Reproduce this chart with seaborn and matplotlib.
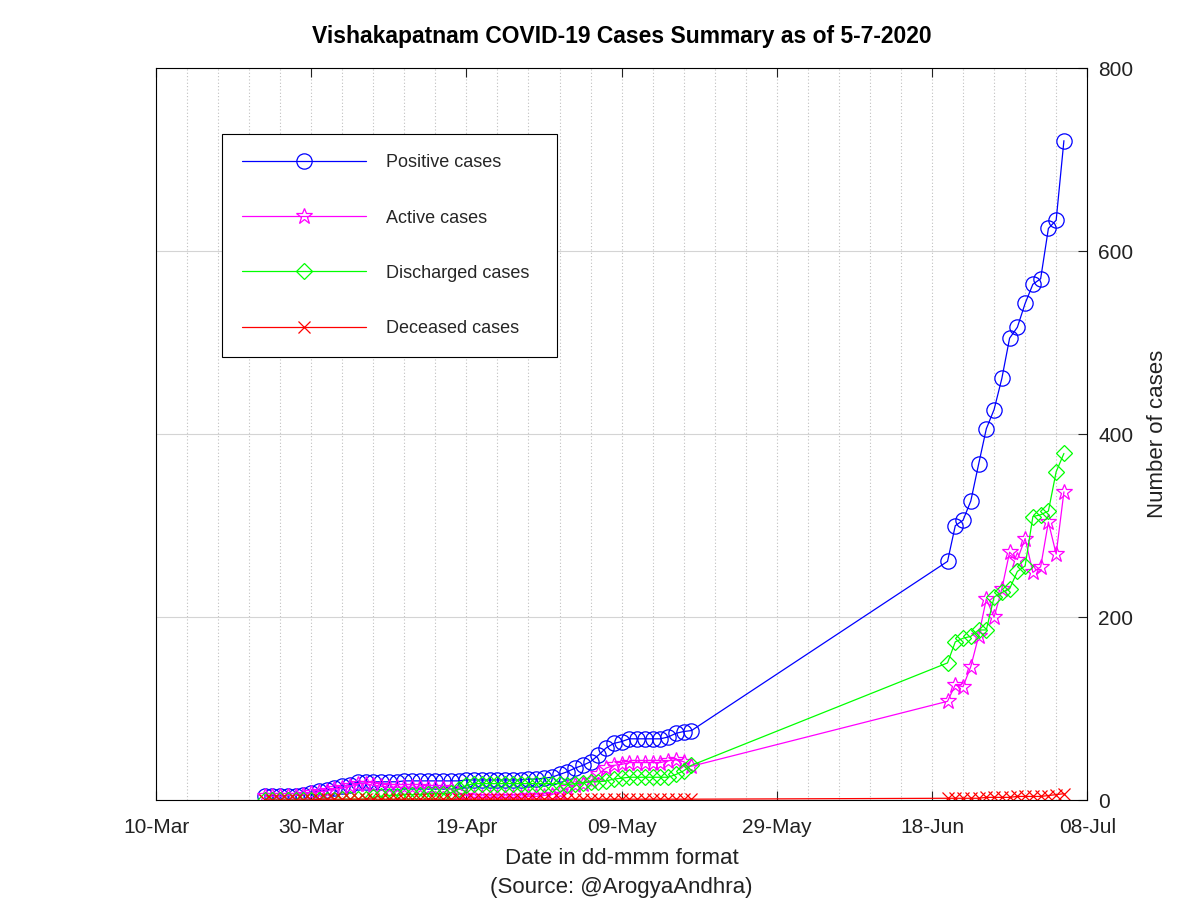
"""Vishakapatnam COVID-19 cases summary (as of 5-7-2020), redrawn with seaborn."""

from __future__ import annotations

import matplotlib

matplotlib.use("Agg")

import matplotlib.dates as mdates
import matplotlib.pyplot as plt
import pandas as pd
import seaborn as sns

# Daily bulletins: 24-Mar .. 18-May, then 20-Jun .. 05-Jul (nothing in between)
FIRST_SPAN = ("2020-03-24", "2020-05-18")
SECOND_SPAN = ("2020-06-20", "2020-07-05")

POSITIVE = [
    4, 4, 4, 5, 5, 6, 8, 10, 11, 13, 15, 17, 20, 20, 20, 20, 20, 20, 21, 21,
    21, 21, 21, 21, 21, 21, 22, 22, 22, 22, 22, 22, 22, 22, 23, 23, 24, 25, 28, 31,
    35, 38, 42, 49, 57, 62, 64, 67, 67, 67, 67, 67, 69, 73, 75, 76,
    261, 300, 306, 327, 367, 406, 427, 461, 505, 517, 543, 564, 570, 625, 634, 721,
]
ACTIVE = [
    4, 4, 4, 5, 5, 6, 8, 9, 10, 12, 13, 15, 18, 18, 16, 15, 14, 14, 14, 14,
    14, 13, 13, 13, 12, 8, 5, 3, 3, 3, 3, 3, 3, 3, 4, 4, 5, 6, 9, 13,
    16, 18, 21, 28, 35, 38, 39, 41, 41, 41, 41, 41, 43, 44, 42, 37,
    108, 126, 124, 146, 179, 220, 200, 231, 271, 263, 286, 249, 255, 304, 269, 337,
]
DISCHARGED = [
    0, 0, 0, 0, 0, 0, 0, 0, 0, 0, 1, 1, 1, 1, 3, 4, 5, 5, 6, 6,
    6, 7, 7, 7, 8, 12, 16, 18, 18, 18, 18, 18, 18, 18, 18, 18, 18, 18, 18, 17,
    18, 19, 20, 20, 21, 23, 24, 25, 25, 25, 25, 25, 25, 28, 32, 38,
    150, 173, 177, 179, 186, 186, 222, 227, 231, 250, 256, 310, 312, 316, 359, 379,
]
DECEASED = [
    0, 0, 0, 0, 0, 0, 0, 1, 1, 1, 1, 1, 1, 1, 1, 1, 1, 1, 1, 1,
    1, 1, 1, 1, 1, 1, 1, 1, 1, 1, 1, 1, 1, 1, 1, 1, 1, 1, 1, 1,
    1, 1, 1, 1, 1, 1, 1, 1, 1, 1, 1, 1, 1, 1, 1, 1,
    2, 2, 2, 2, 2, 3, 3, 3, 3, 4, 4, 4, 4, 5, 6, 7,
]

X_TICKS = ("2020-03-10", "2020-07-08")
Y_TICKS = [0, 200, 400, 600, 800]

# label -> (values, colour, marker, marker size)
SERIES_STYLE = {
    "Positive cases": (POSITIVE, "#0000ff", "o", 11),
    "Active cases": (ACTIVE, "#ff00ff", "*", 12),
    "Discharged cases": (DISCHARGED, "#00ff00", "D", 8),
    "Deceased cases": (DECEASED, "#ff0000", "x", 9),
}
TEXT_COLOR = "#222222"


def build_frame() -> pd.DataFrame:
    dates = pd.date_range(*FIRST_SPAN).append(pd.date_range(*SECOND_SPAN))
    frames = []
    for label, (values, _, _, _) in SERIES_STYLE.items():
        frames.append(pd.DataFrame({"date": dates, "cases": values, "series": label}))
    return pd.concat(frames, ignore_index=True)


def main() -> None:
    sns.set_style("white")
    plt.rcParams["font.family"] = ["Liberation Sans", "DejaVu Sans"]

    df = build_frame()
    fig = plt.figure(figsize=(12, 9), dpi=100)
    ax = fig.add_axes([0.13, 0.111, 0.776, 0.813])

    for label, (_, color, marker, size) in SERIES_STYLE.items():
        sns.lineplot(
            data=df[df["series"] == label],
            x="date",
            y="cases",
            color=color,
            marker=marker,
            markersize=size,
            markerfacecolor="none",
            markeredgecolor=color,
            markeredgewidth=0.9,
            linewidth=0.9,
            estimator=None,
            label=label,
            ax=ax,
        )

    start, end = (pd.Timestamp(d) for d in X_TICKS)
    ax.set_xlim(start, end)
    ax.set_ylim(Y_TICKS[0], Y_TICKS[-1])
    ax.set_xticks(pd.date_range(start, end, freq="20D"))
    ax.set_xticks(pd.date_range(start, end, freq="4D"), minor=True)
    ax.xaxis.set_major_formatter(mdates.DateFormatter("%d-%b"))
    ax.set_yticks(Y_TICKS)

    ax.yaxis.tick_right()
    ax.yaxis.set_label_position("right")
    ax.tick_params(axis="x", which="major", direction="in", top=True, bottom=True,
                   length=6.5, width=0.8, pad=13, labelsize=15, colors=TEXT_COLOR)
    ax.tick_params(axis="x", which="minor", length=0)
    ax.tick_params(axis="y", which="major", direction="in", left=False, right=True,
                   length=6.5, width=0.8, pad=8, labelsize=15, colors=TEXT_COLOR)

    ax.set_axisbelow(True)
    ax.grid(which="major", axis="y", color="#d4d4d4", linestyle="-", linewidth=0.8)
    ax.grid(which="both", axis="x", color="#c0c0c0", linestyle=(0, (1, 2)), linewidth=0.8)
    for spine in ax.spines.values():
        spine.set_visible(True)
        spine.set_color("black")
        spine.set_linewidth(0.8)

    ax.set_xlabel("Date in dd-mmm format\n(Source: @ArogyaAndhra)", fontsize=16,
                  linespacing=1.5, labelpad=8, color=TEXT_COLOR)
    ax.set_ylabel("Number of cases", fontsize=16, labelpad=10, color=TEXT_COLOR)
    ax.set_title("Vishakapatnam COVID-19 Cases Summary as of 5-7-2020",
                 fontsize=16.5, fontweight="bold", pad=18.5, color="black")

    legend = ax.legend(
        loc="upper left",
        bbox_to_anchor=(0.0709, 0.9098 - 0.30, 0.3598, 0.30),
        mode="expand",
        borderaxespad=0,
        fontsize=13,
        handlelength=6.9,
        handletextpad=1.1,
        labelspacing=2.12,
        borderpad=1.1,
        fancybox=False,
        framealpha=1,
        edgecolor="black",
    )
    legend.get_frame().set_linewidth(0.8)

    fig.savefig("out.png", dpi=100)
    plt.close(fig)


if __name__ == "__main__":
    main()
